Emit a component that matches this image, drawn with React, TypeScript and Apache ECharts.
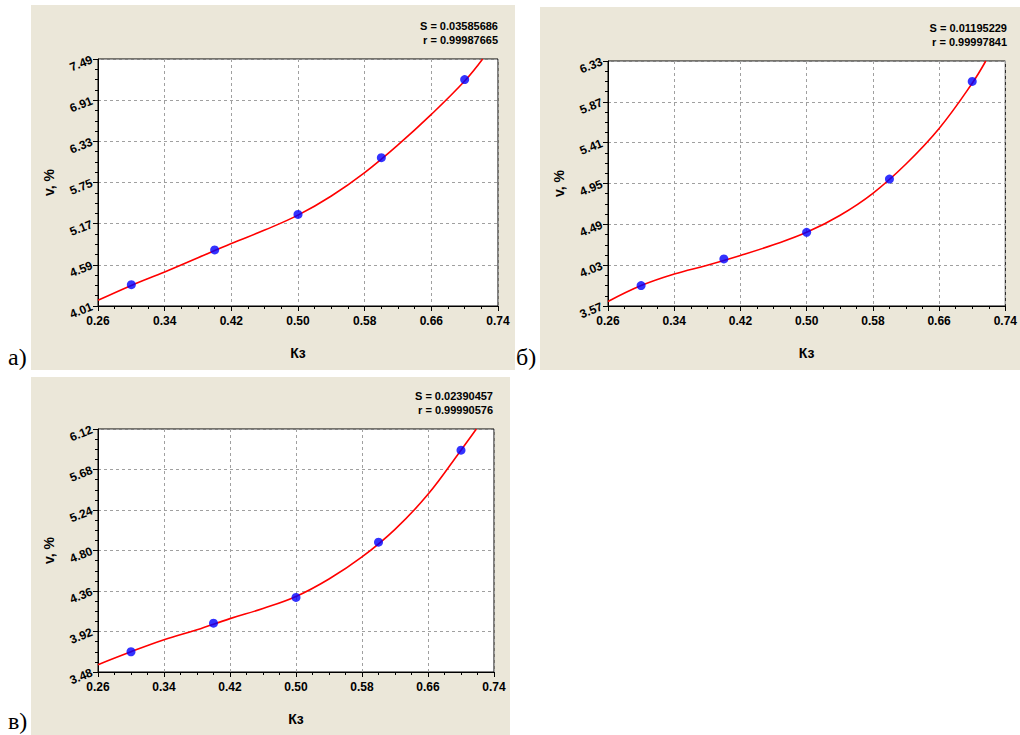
import React, { useEffect, useRef } from "react";
import * as echarts from "echarts";

// X axis (shared by all three panels)
const X_MIN = 0.26;
const X_MAX = 0.74;
const X_STEP = 0.08;

// Measured points (Kз, v %)
const pointsX = [0.3, 0.4, 0.5, 0.6, 0.7];
const aPointsY = [4.31, 4.8, 5.3, 6.1, 7.2];
const bPointsY = [3.8, 4.1, 4.4, 5.0, 6.1];
const cPointsY = [3.7, 4.01, 4.29, 4.89, 5.89];

// Fitted curves
const aCurveX = [0.26, 0.3, 0.34, 0.38, 0.42, 0.46, 0.5, 0.54, 0.58, 0.62, 0.66, 0.7, 0.7216];
const aCurveY = [4.09, 4.3, 4.49, 4.69, 4.89, 5.08, 5.29, 5.56, 5.89, 6.28, 6.71, 7.18, 7.49];
const bCurveX = [0.26, 0.3, 0.34, 0.38, 0.42, 0.46, 0.5, 0.54, 0.58, 0.62, 0.66, 0.7, 0.7164];
const bCurveY = [3.62, 3.8, 3.93, 4.03, 4.14, 4.26, 4.4, 4.59, 4.84, 5.17, 5.57, 6.08, 6.33];
const cCurveX = [0.26, 0.3, 0.34, 0.38, 0.42, 0.46, 0.5, 0.54, 0.58, 0.62, 0.66, 0.7, 0.7186];
const cCurveY = [3.56, 3.7, 3.83, 3.94, 4.06, 4.17, 4.3, 4.49, 4.73, 5.03, 5.41, 5.89, 6.12];

// Y axes ranges (min, max, step)
const aYRange = [4.01, 7.49, 0.58];
const bYRange = [3.57, 6.33, 0.46];
const cYRange = [3.48, 6.12, 0.44];

// Statistics
const aStats = ["S = 0.03585686", "r = 0.99987665"];
const bStats = ["S = 0.01195229", "r = 0.99997841"];
const cStats = ["S = 0.02390457", "r = 0.99990576"];

const panelLabels = ["а)", "б)", "в)"];
const xTitle = "Кз";
const yTitle = "v, %";

const FONT = "'Liberation Sans', Arial, sans-serif";
const BG = "#ebe7d9";

const panels = [
  { grid: { left: 98, top: 59, width: 400, height: 247 }, bg: [31, 5, 484, 365], statsX: 498, statsY: 26, label: [8, 357], pts: aPointsY, cx: aCurveX, cy: aCurveY, yr: aYRange, stats: aStats, name: panelLabels[0] },
  { grid: { left: 608, top: 61, width: 400, height: 245 }, bg: [540, 7, 480, 363], statsX: 1007, statsY: 28, label: [516, 357], pts: bPointsY, cx: bCurveX, cy: bCurveY, yr: bYRange, stats: bStats, name: panelLabels[1] },
  { grid: { left: 98, top: 429, width: 396, height: 243 }, bg: [31, 377, 479, 358], statsX: 493, statsY: 396, label: [8, 721], pts: cPointsY, cx: cCurveX, cy: cCurveY, yr: cYRange, stats: cStats, name: panelLabels[2] },
];

export default function App() {
  const ref = useRef<HTMLDivElement>(null);
  useEffect(() => {
    if (!ref.current) return;
    const chart = echarts.init(ref.current, undefined, { renderer: "svg" });

    const grids: any[] = [];
    const xAxes: any[] = [];
    const yAxes: any[] = [];
    const series: any[] = [];
    const graphic: any[] = [];

    panels.forEach((p, i) => {
      const [yMin, yMax, yStep] = p.yr;
      grids.push({
        ...p.grid,
        show: true,
        backgroundColor: "#ffffff",
        borderColor: "#000000",
        borderWidth: 1,
        containLabel: false,
      });
      xAxes.push({
        type: "value",
        gridIndex: i,
        min: 0,
        max: X_MAX - X_MIN,
        interval: X_STEP,
        name: xTitle,
        nameLocation: "middle",
        nameGap: 40,
        nameTextStyle: { fontFamily: FONT, fontWeight: "bold", fontSize: 14, color: "#000" },
        axisLine: { show: true, onZero: false, lineStyle: { color: "#000", width: 1 } },
        axisTick: { show: true, inside: false, length: 5, lineStyle: { color: "#000" } },
        minorTick: { show: true, splitNumber: 4, length: 3, lineStyle: { color: "#000" } },
        axisLabel: {
          margin: 9,
          fontFamily: FONT,
          fontWeight: "bold",
          fontSize: 12,
          color: "#000",
          formatter: (v: number) => (v + X_MIN).toFixed(2),
        },
        splitLine: { show: true, lineStyle: { color: "#a0a0a0", type: [3, 3], width: 1 } },
      });
      yAxes.push({
        type: "value",
        gridIndex: i,
        min: 0,
        max: +(yMax - yMin).toFixed(2),
        interval: yStep,
        name: yTitle,
        nameLocation: "middle",
        nameGap: 42,
        nameTextStyle: { fontFamily: FONT, fontWeight: "bold", fontSize: 14, color: "#000" },
        axisLine: { show: true, onZero: false, lineStyle: { color: "#000", width: 1 } },
        axisTick: { show: true, inside: false, length: 5, lineStyle: { color: "#000" } },
        minorTick: { show: true, splitNumber: 4, length: 3, lineStyle: { color: "#000" } },
        axisLabel: {
          margin: 6,
          rotate: 22,
          fontFamily: FONT,
          fontWeight: "bold",
          fontSize: 12,
          color: "#000",
          formatter: (v: number) => (v + yMin).toFixed(2),
        },
        splitLine: { show: true, lineStyle: { color: "#a0a0a0", type: [3, 3], width: 1 } },
      });
      series.push({
        type: "line",
        xAxisIndex: i,
        yAxisIndex: i,
        data: p.cx.map((x, j) => [x - X_MIN, p.cy[j] - yMin]),
        smooth: 0.4,
        symbol: "none",
        clip: true,
        lineStyle: { color: "#ff0000", width: 1.6 },
        z: 2,
      });
      series.push({
        type: "scatter",
        xAxisIndex: i,
        yAxisIndex: i,
        data: pointsX.map((x, j) => [x - X_MIN, p.pts[j] - yMin]),
        symbol: "circle",
        symbolSize: 9,
        itemStyle: { color: "#0000ff" },
        z: 3,
      });
      graphic.push({
        type: "rect",
        z: -10,
        shape: { x: p.bg[0], y: p.bg[1], width: p.bg[2], height: p.bg[3] },
        style: { fill: BG },
      });
      p.stats.forEach((s, k) => {
        graphic.push({
          type: "text",
          z: 10,
          x: p.statsX,
          y: p.statsY + k * 14,
          style: {
            text: s,
            align: "right",
            verticalAlign: "middle",
            font: `bold 11px ${FONT}`,
            fill: "#000",
          },
        });
      });
      graphic.push({
        type: "text",
        z: 10,
        x: p.label[0],
        y: p.label[1],
        style: {
          text: p.name,
          align: "left",
          verticalAlign: "middle",
          font: `24px 'Liberation Serif', 'Times New Roman', serif`,
          fill: "#000",
        },
      });
    });

    chart.setOption({
      animation: false,
      backgroundColor: "#ffffff",
      grid: grids,
      xAxis: xAxes,
      yAxis: yAxes,
      series,
      graphic,
    });
    return () => chart.dispose();
  }, []);

  return (
    <div
      ref={ref}
      style={{ position: "absolute", left: 0, top: 0, width: 1020, height: 735 }}
    />
  );
}
